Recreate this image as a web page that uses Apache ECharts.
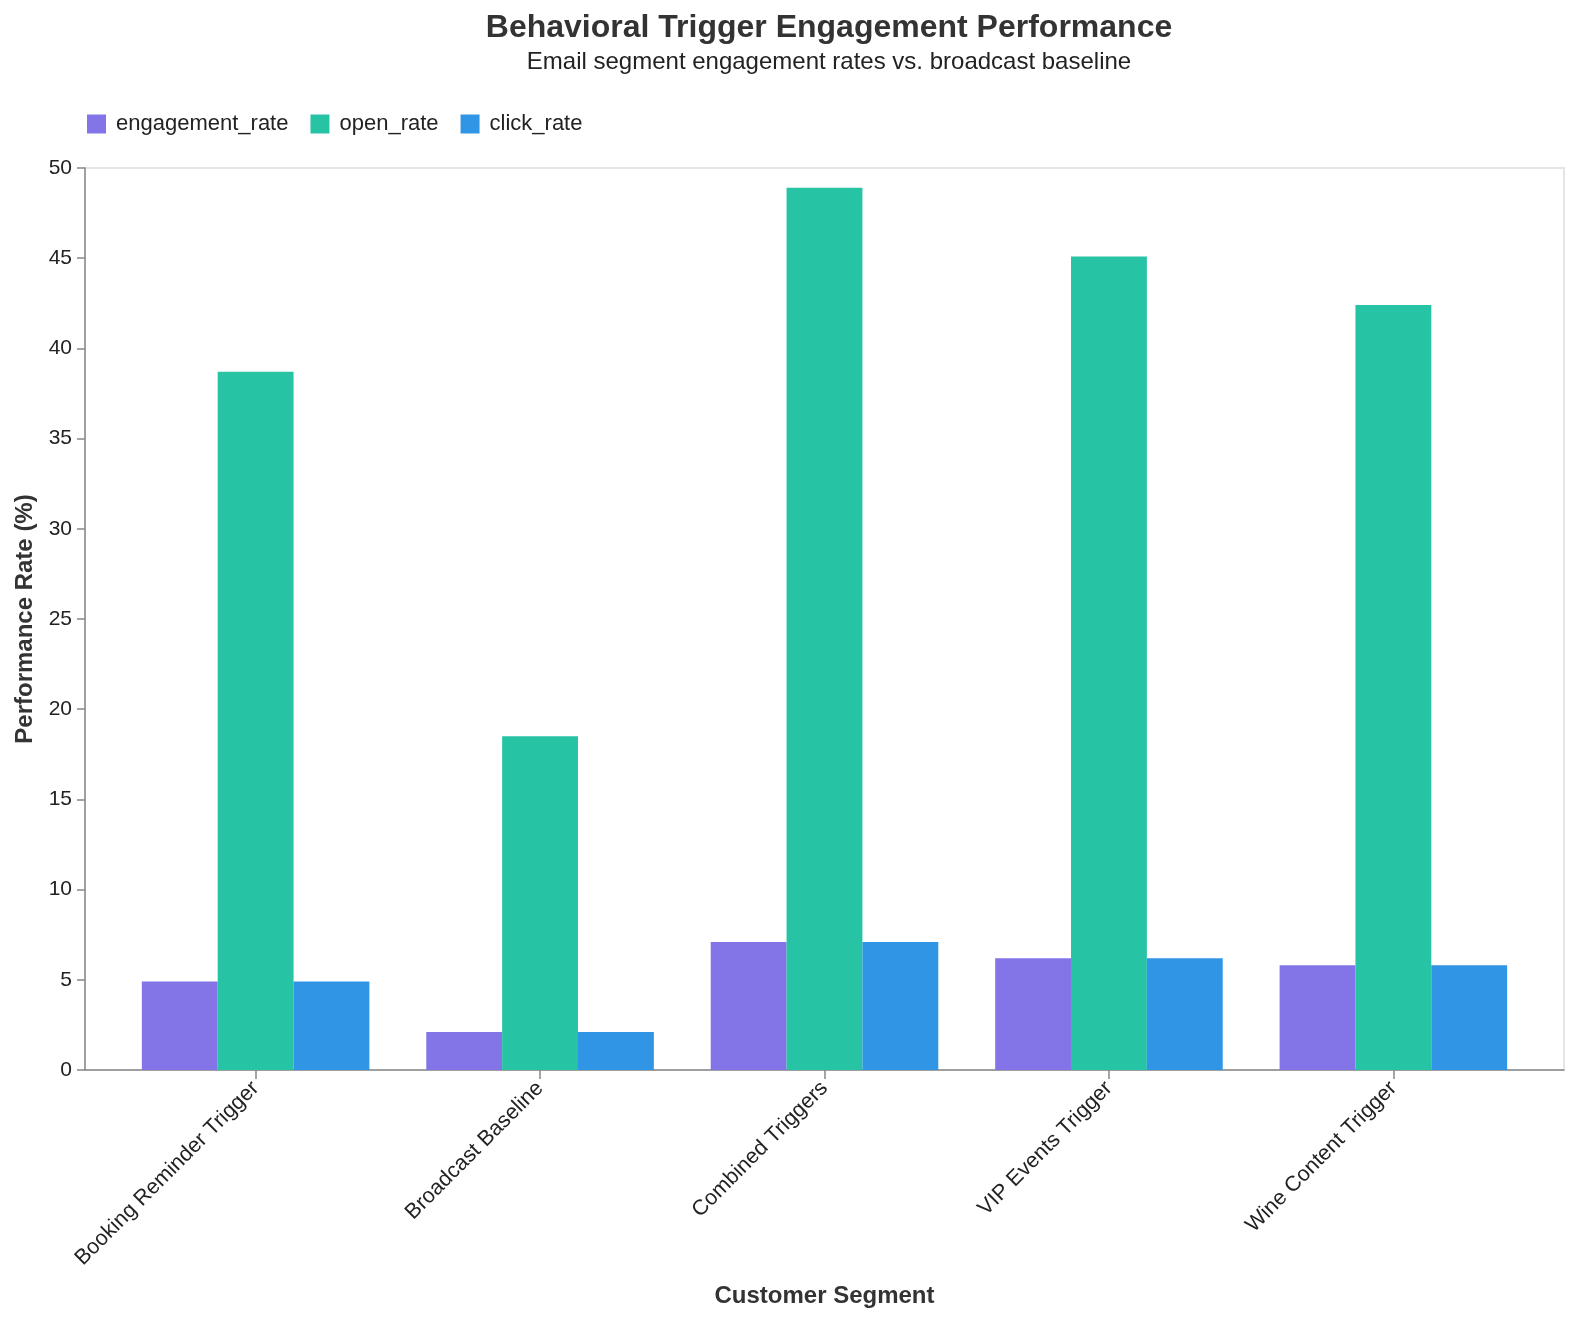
<!DOCTYPE html>
<html>
<head>
<meta charset="utf-8">
<title>Behavioral Trigger Engagement Performance</title>
<script src="https://cdn.jsdelivr.net/npm/echarts@6/dist/echarts.min.js"></script>
<style>
  html, body { margin: 0; padding: 0; background: #fff; }
  #main { width: 1574px; height: 1320px; }
</style>
</head>
<body>
<div id="main"></div>
<script>
// 数据
var segments = ['Booking Reminder Trigger', 'Broadcast Baseline', 'Combined Triggers', 'VIP Events Trigger', 'Wine Content Trigger'];
var engagementRate = [4.9, 2.1, 7.1, 6.2, 5.8];
var openRate = [38.7, 18.5, 48.9, 45.1, 42.4];
var clickRate = [4.9, 2.1, 7.1, 6.2, 5.8];
var yTicks = [0, 5, 10, 15, 20, 25, 30, 35, 40, 45, 50];

var FONT = "'Liberation Sans', Arial, sans-serif";
var chart = echarts.init(document.getElementById('main'));

var option = {
  backgroundColor: '#fff',
  color: ['#8375E8', '#26C3A5', '#3095E5'],
  textStyle: { fontFamily: FONT },
  title: {
    text: 'Behavioral Trigger Engagement Performance',
    subtext: 'Email segment engagement rates vs. broadcast baseline',
    left: 824,
    top: 7,
    textAlign: 'center',
    itemGap: 6,
    textStyle: { fontSize: 32, fontWeight: 'bold', color: '#333', fontFamily: FONT },
    subtextStyle: { fontSize: 24, color: '#222', fontFamily: FONT }
  },
  legend: {
    left: 82,
    top: 108,
    icon: 'rect',
    itemWidth: 19,
    itemHeight: 19,
    itemGap: 22,
    textStyle: { fontSize: 22, color: '#222', fontFamily: FONT, padding: [0, 0, 0, 5] },
    data: ['engagement_rate', 'open_rate', 'click_rate']
  },
  grid: [
    // 外框 + y轴
    { left: 85, right: 10, top: 168, bottom: 250, show: true, borderColor: '#ddd', borderWidth: 1.5, containLabel: false },
    // 柱子（带外边距）
    { left: 113.4, right: 38.4, top: 168, bottom: 250, containLabel: false }
  ],
  xAxis: [
    {
      gridIndex: 0, type: 'value', min: 0, max: 1,
      axisLine: { show: true, lineStyle: { color: '#888', width: 1.5 } },
      axisTick: { show: false }, axisLabel: { show: false }, splitLine: { show: false }
    },
    {
      gridIndex: 1, type: 'category', data: segments,
      axisLine: { show: false },
      axisTick: { show: true, alignWithLabel: true, length: 9, lineStyle: { color: '#888', width: 1.5 } },
      axisLabel: { rotate: 45, fontSize: 21.5, color: '#222', margin: 15, fontFamily: FONT },
      name: 'Customer Segment',
      nameLocation: 'middle',
      nameGap: 214,
      nameTextStyle: { fontSize: 24, fontWeight: 'bold', color: '#333', fontFamily: FONT }
    }
  ],
  yAxis: [
    {
      gridIndex: 0, type: 'value', min: 0, max: 50, interval: 5,
      axisLine: { show: true, lineStyle: { color: '#888', width: 1.5 } },
      axisTick: { show: true, length: 8, lineStyle: { color: '#888', width: 1.5 } },
      axisLabel: { fontSize: 21, color: '#222', margin: 13, fontFamily: FONT,
        formatter: function (v) { return yTicks.indexOf(v) >= 0 ? String(v) : ''; } },
      splitLine: { show: false },
      name: 'Performance Rate (%)',
      nameLocation: 'middle',
      nameGap: 48,
      nameTextStyle: { fontSize: 24, fontWeight: 'bold', color: '#333', fontFamily: FONT }
    },
    {
      gridIndex: 1, type: 'value', min: 0, max: 50, interval: 5, show: false
    }
  ],
  series: [
    {
      name: 'engagement_rate', type: 'bar', xAxisIndex: 1, yAxisIndex: 1,
      data: engagementRate, barGap: '0%', barCategoryGap: '20%'
    },
    {
      name: 'open_rate', type: 'bar', xAxisIndex: 1, yAxisIndex: 1,
      data: openRate, barGap: '0%', barCategoryGap: '20%'
    },
    {
      name: 'click_rate', type: 'bar', xAxisIndex: 1, yAxisIndex: 1,
      data: clickRate, barGap: '0%', barCategoryGap: '20%'
    }
  ]
};

chart.setOption(option);
</script>
</body>
</html>
